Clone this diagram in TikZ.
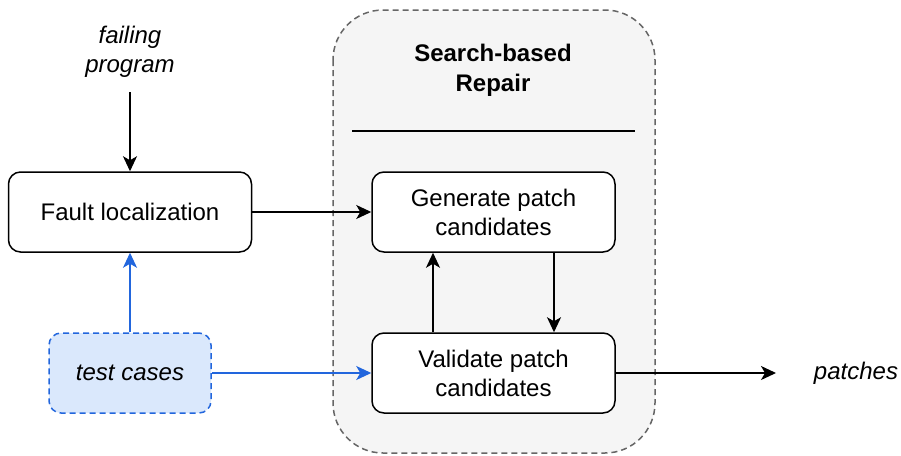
\documentclass[tikz,border=0pt]{standalone}
\usepackage{fontspec}
\setmainfont{Liberation Sans}
\usetikzlibrary{arrows.meta}
\definecolor{groupfill}{HTML}{F5F5F5}
\definecolor{groupline}{HTML}{666666}
\definecolor{testfill}{HTML}{DAE8FC}
\definecolor{testline}{HTML}{2266DD}
\tikzset{
  px/.style={x=1pt,y=-1pt},
  proc/.style={draw=black, fill=white, line width=1.5pt, rounded corners=12pt,
    minimum width=243pt, minimum height=80pt, align=center, inner sep=0pt,
    font=\fontsize{24}{29}\selectfont},
  testbox/.style={draw=testline, fill=testfill, line width=1.5pt,
    dash pattern=on 6pt off 4pt, rounded corners=12pt,
    minimum width=162pt, minimum height=80pt, align=center, inner sep=0pt,
    font=\fontsize{24}{29}\selectfont\itshape},
  lbl/.style={align=center, inner sep=0pt, font=\fontsize{24}{29}\selectfont\itshape},
  flow/.style={draw=black, line width=1.5pt, -{Stealth[length=15pt, width=14pt, inset=4pt]}},
  blueflow/.style={flow, draw=testline, -{Stealth[length=15pt, width=14pt, inset=4pt, fill=testline]}}
}
\begin{document}
\begin{tikzpicture}[px]
\useasboundingbox (0,0) rectangle (901,455);

% search-based repair container
\draw[groupline, fill=groupfill, line width=1.5pt, dash pattern=on 6pt off 4pt,
  rounded corners=50pt] (333,10) rectangle (655,453);
\node[inner sep=0pt, align=center, font=\fontsize{24}{30}\selectfont\bfseries]
  (title) at (493,70) {Search-based\\Repair};
\coordinate (sepL) at (352,131);
\coordinate (sepR) at (635,131);
\draw[line width=1.5pt] (sepL) -- (sepR);

% nodes
\node[lbl] (fail) at (130,52) {failing\\program};
\coordinate (failend) at (130,92);
\node[proc] (fault) at (130,212) {Fault localization};
\node[proc] (gen) at (493.5,212) {Generate patch\\candidates};
\node[proc] (val) at (493.5,373) {Validate patch\\candidates};
\node[testbox] (tests) at (130,373) {test cases};
\node[lbl] (patches) at (856,373) {patches};
\coordinate (patchend) at (776,373);

% connectors
\draw[flow] (failend) -- (fault.north);
\draw[flow] (fault.east) -- (gen.west);
\draw[flow] (gen.south -| 554,0) -- (val.north -| 554,0);
\draw[flow] (val.north -| 433,0) -- (gen.south -| 433,0);
\draw[flow] (val.east) -- (patchend);
\draw[blueflow] (tests.north) -- (fault.south);
\draw[blueflow] (tests.east) -- (val.west);
\end{tikzpicture}
\end{document}
